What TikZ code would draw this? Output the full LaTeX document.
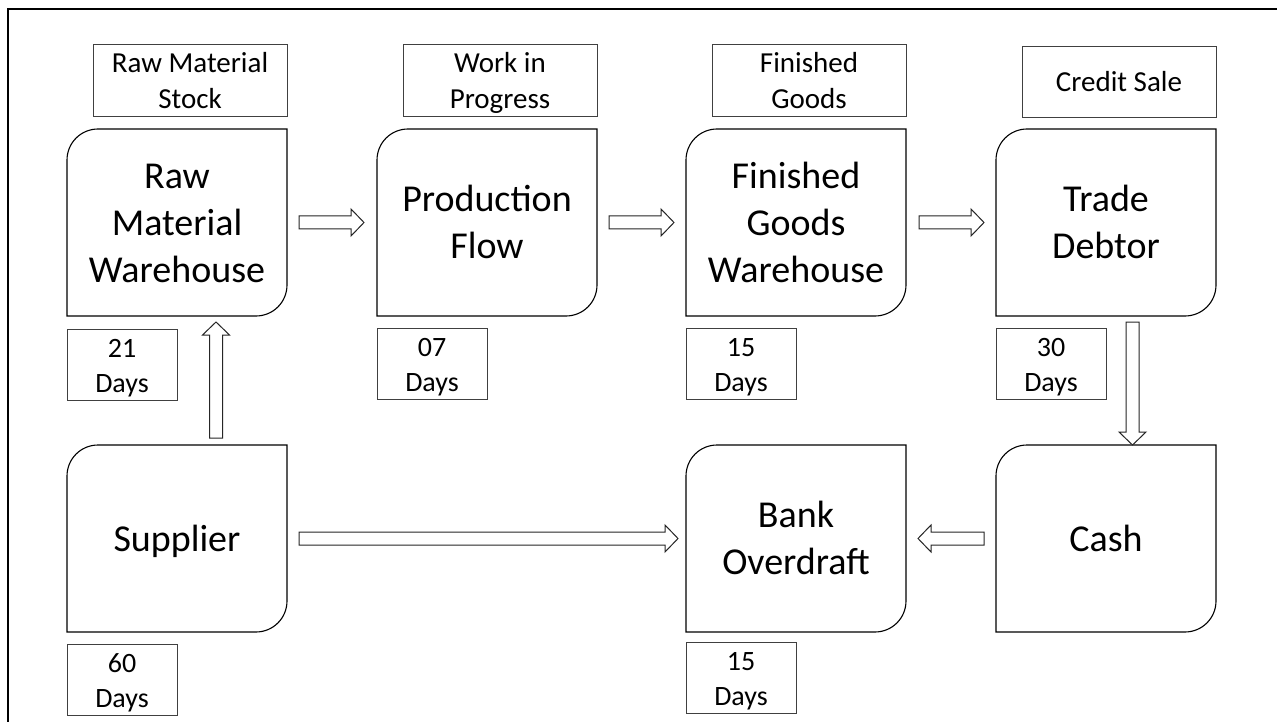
\documentclass[tikz,border=0pt]{standalone}
\usepackage{fontspec}
\setmainfont{Carlito}
\usetikzlibrary{calc}

% hollow block arrow from #1 to #2
\newcommand\flowarrow[2]{%
  \draw[blockline] let \p1=(#1), \p2=(#2),
      \n1={atan2(\y2-\y1,\x2-\x1)},
      \n2={veclen(\x2-\x1,\y2-\y1)},
      \n3={\n2-13} in
    [shift={(\p1)}, rotate=\n1]
    (0pt,-6.5pt) -- (\n3,-6.5pt) -- (\n3,-13.5pt) -- (\n2,0pt)
    -- (\n3,13.5pt) -- (\n3,6.5pt) -- (0pt,6.5pt) -- cycle;}

% invisible struts that fix the first and last line of a label
\newcommand\linestrut[2]{\rule[-#2]{0pt}{\dimexpr#1+#2\relax}}
\newcommand\bigstrut{\linestrut{36pt}{11pt}}
\newcommand\tagstrut{\linestrut{28pt}{8pt}}
\newcommand\daystrut{\linestrut{27.5pt}{7.5pt}}

\begin{document}
\begin{tikzpicture}[x=1pt,y=-1pt,
  bigbox/.style={rectangle, minimum width=220pt, minimum height=187pt,
    inner sep=0pt, outer sep=0pt, align=center,
    font=\fontsize{38}{47}\selectfont},
  tagbox/.style={rectangle, draw=black!75, line width=0.9pt,
    minimum width=194pt, minimum height=71pt, inner sep=0pt, align=center,
    font=\fontsize{29}{36}\selectfont},
  daybox/.style={rectangle, draw=black!75, line width=0.9pt,
    minimum width=110pt, minimum height=71pt, inner sep=0pt, align=center,
    font=\fontsize{28}{35}\selectfont},
  outline/.style={draw=black, line width=1.1pt},
  blockline/.style={draw=black!85, line width=1pt, fill=white, line join=miter}]

\useasboundingbox (0,0) rectangle (1277,722);
\fill[white] (0,0) rectangle (1277,722);

% frame
\draw[line width=2pt] (8,722) -- (8,9) -- (1277,9);

% main blocks
\node[bigbox] (rmw)  at (177,222.5)  {\bigstrut Raw\\Material\\Warehouse\bigstrut};
\node[bigbox] (pf)   at (487,222.5)  {\bigstrut Production\\Flow\bigstrut};
\node[bigbox] (fgw)  at (796,222.5)  {\bigstrut Finished\\Goods\\Warehouse\bigstrut};
\node[bigbox] (td)   at (1106,222.5) {\bigstrut Trade\\Debtor\bigstrut};
\node[bigbox] (sup)  at (177,538.5)  {\bigstrut Supplier\bigstrut};
\node[bigbox] (bo)   at (796,538.5)  {\bigstrut Bank\\Overdraft\bigstrut};
\node[bigbox] (cash) at (1106,538.5) {\bigstrut Cash\bigstrut};

% outlines with rounded top-left and bottom-right corners
\foreach \b in {rmw,pf,fgw,td,sup,bo,cash}
  \draw[outline] ([xshift=31pt]\b.north west) -- (\b.north east)
    -- ([yshift=31pt]\b.south east) arc[start angle=0,end angle=-90,radius=31pt]
    -- (\b.south west) -- ([yshift=-31pt]\b.north west)
    arc[start angle=180,end angle=90,radius=31pt] -- cycle;

% stage labels
\node[tagbox] (rms) at (190,80.5)  {\tagstrut Raw Material\\Stock\tagstrut};
\node[tagbox] (wip) at (500,80.5)  {\tagstrut Work in\\Progress\tagstrut};
\node[tagbox] (fg)  at (809,80.5)  {\tagstrut Finished\\Goods\tagstrut};
\node[tagbox] (cs)  at (1119,81.5) {\tagstrut Credit Sale\tagstrut};

% durations
\node[daybox] (d1) at (122,364.5) {\daystrut 21\\Days\daystrut};
\node[daybox] (d2) at (432,363.5) {\daystrut 07\\Days\daystrut};
\node[daybox] (d3) at (741,363.5) {\daystrut 15\\Days\daystrut};
\node[daybox] (d4) at (1051,363.5) {\daystrut 30\\Days\daystrut};
\node[daybox] (d5) at (122,679.5) {\daystrut 60\\Days\daystrut};
\node[daybox] (d6) at (741,678)   {\daystrut 15\\Days\daystrut};

% arrow end points
\coordinate (a1s) at ([xshift=12pt]rmw.east);
\coordinate (a1e) at ([xshift=-13pt]pf.west);
\coordinate (a2s) at ([xshift=12pt]pf.east);
\coordinate (a2e) at ([xshift=-12pt]fgw.west);
\coordinate (a3s) at ([xshift=13pt]fgw.east);
\coordinate (a3e) at ([xshift=-12pt]td.west);
\coordinate (a4s) at ([shift={(26.5pt,-6pt)}]td.south);
\coordinate (a4e) at ([xshift=26.5pt]cash.north);
\coordinate (a5s) at ([xshift=-12pt]cash.west);
\coordinate (a5e) at ([xshift=12pt]bo.east);
\coordinate (a6s) at ([xshift=12pt]sup.east);
\coordinate (a6e) at ([xshift=-8pt]bo.west);
\coordinate (a7s) at ([shift={(39pt,7pt)}]sup.north);
\coordinate (a7e) at ([shift={(39pt,-6pt)}]rmw.south);

\flowarrow{a1s}{a1e}
\flowarrow{a2s}{a2e}
\flowarrow{a3s}{a3e}
\flowarrow{a4s}{a4e}
\flowarrow{a5s}{a5e}
\flowarrow{a6s}{a6e}
\flowarrow{a7s}{a7e}

\end{tikzpicture}
\end{document}
